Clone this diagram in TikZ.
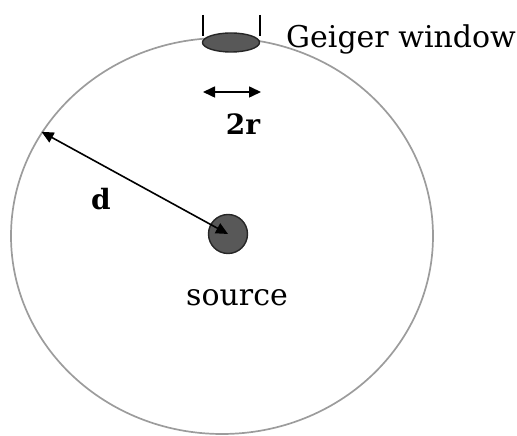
\documentclass[tikz,border=0pt]{standalone}
\usepackage{fontspec}
\setmainfont{DejaVu Serif}
\usetikzlibrary{shapes.geometric,arrows.meta,positioning}
\usepackage{xcolor}
\definecolor{rimgray}{HTML}{9C9C9C}
\definecolor{blobgray}{HTML}{585858}

\begin{document}
\begin{tikzpicture}[
  x=1pt, y=1pt,
  node distance=10pt,
  rim/.style={draw=rimgray, line width=1.7pt, ellipse, inner sep=0pt,
    minimum width=422pt, minimum height=396pt},
  blob/.style={fill=blobgray, draw=black!85, line width=1.4pt, inner sep=0pt},
  txt/.style={font=\fontsize{30}{34}\selectfont, inner sep=0pt},
  boldtxt/.style={inner sep=0pt, font=\fontsize{28}{32}\selectfont\bfseries},
  measure/.style={{Triangle[length=12pt,width=11pt]}-{Triangle[length=12pt,width=11pt]}, line width=1.6pt}
]
\useasboundingbox (0,0) rectangle (517,436);

% detector sphere
\node[rim] (big) at (222,200) {};

% window and its edges
\node[blob, ellipse, minimum width=57pt, minimum height=19pt] (win) at (231,393.5) {};
\draw[line width=1.6pt] (203,421) -- (203,400);
\draw[line width=1.6pt] (260,421) -- (260,400);
\node[txt, anchor=west] (geiger) at (286,397) {Geiger window};

% window width
\coordinate (wl) at (203,344);
\coordinate (wr) at (261,344);
\draw[measure] (wl) -- (wr);
\node[boldtxt] (tworad) at (243,312) {2r};

% source and distance
\node[blob, circle, minimum size=39pt] (src) at (228,202) {};
\node[txt] (srclabel) at (237,138) {source};
\draw[measure] (src.center) -- (big.150);
\node[boldtxt] (dist) at (101,237) {d};
\end{tikzpicture}
\end{document}
